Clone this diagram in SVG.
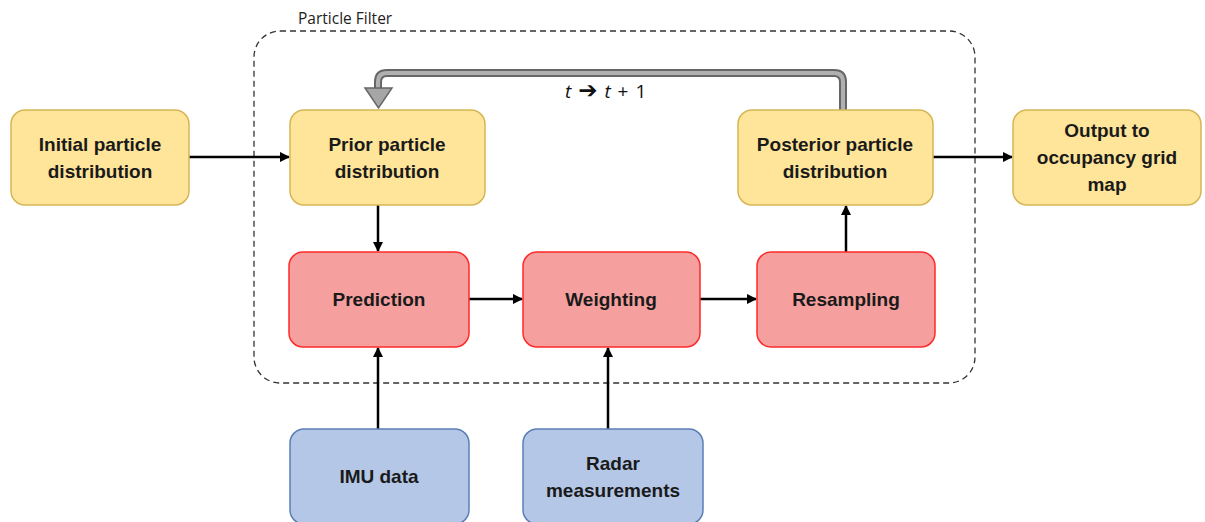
<svg xmlns="http://www.w3.org/2000/svg" width="1205" height="522" viewBox="0 0 1205 522">
<style>
.y{fill:#FFE599;stroke:#D6B656;stroke-width:1.5}
.r{fill:#F5A09E;stroke:#FF2A2A;stroke-width:1.5}
.b{fill:#B4C7E7;stroke:#5B7FB5;stroke-width:1.5}
.t{font-family:"Liberation Sans",Arial,sans-serif;font-weight:bold;font-size:19px;fill:#1a1a1a;text-anchor:middle}
.c{stroke:#000;stroke-width:2.5;fill:none;marker-end:url(#a)}
</style>
<defs>
<marker id="a" viewBox="0 0 10 10" refX="9" refY="5" markerWidth="4.2" markerHeight="4.2" orient="auto" markerUnits="strokeWidth">
<path d="M0,0 L10,5 L0,10 z" fill="#000"/>
</marker>
</defs>
<g id="container">
<rect x="254" y="31" width="721" height="352" rx="26" fill="none" stroke="#333" stroke-width="1.3" stroke-dasharray="6,4"/>
<text x="298" y="24" font-family="'Open Sans','Liberation Sans',sans-serif" font-size="15.5" fill="#222">Particle Filter</text>
</g>
<g id="connectors">
<path d="M843,110 V82 Q843,73 834,73 H387 Q378,73 378,82 V90" fill="none" stroke="#666" stroke-width="8"/>
<path d="M843,110 V82 Q843,73 834,73 H387 Q378,73 378,82 V92" fill="none" stroke="#B0B0B0" stroke-width="4"/>
<path d="M365,88 H392 L378.5,108 z" fill="#A6A6A6" stroke="#666" stroke-width="1.5"/>
<text x="565" y="98" font-family="'Open Sans','Liberation Sans',sans-serif" font-size="19" fill="#111" word-spacing="2"><tspan font-style="italic">t</tspan> <tspan font-family="'DejaVu Sans',sans-serif" font-weight="bold" font-size="23">➔</tspan> <tspan font-style="italic">t</tspan> + 1</text>
<path class="c" d="M189,157 H289"/>
<path class="c" d="M378,205 V251"/>
<path class="c" d="M469,299 H522"/>
<path class="c" d="M700,299 H756"/>
<path class="c" d="M846,252 V206"/>
<path class="c" d="M933,157 H1012"/>
<path class="c" d="M378,429 V348"/>
<path class="c" d="M608,429 V348"/>
</g>
<g id="initial"><rect class="y" x="11" y="110" width="178" height="95" rx="14"/><text class="t" x="100" y="151">Initial particle</text><text class="t" x="100" y="178">distribution</text></g>
<g id="prior"><rect class="y" x="290" y="110" width="195" height="95" rx="14"/><text class="t" x="387" y="151">Prior particle</text><text class="t" x="387" y="178">distribution</text></g>
<g id="posterior"><rect class="y" x="738" y="110" width="195" height="95" rx="14"/><text class="t" x="835" y="151">Posterior particle</text><text class="t" x="835" y="178">distribution</text></g>
<g id="output"><rect class="y" x="1013" y="110" width="188" height="95" rx="14"/><text class="t" x="1107" y="137">Output to</text><text class="t" x="1107" y="164">occupancy grid</text><text class="t" x="1107" y="191">map</text></g>
<g id="prediction"><rect class="r" x="289" y="252" width="180" height="95" rx="14"/><text class="t" x="379" y="306">Prediction</text></g>
<g id="weighting"><rect class="r" x="523" y="252" width="177" height="95" rx="14"/><text class="t" x="611" y="306">Weighting</text></g>
<g id="resampling"><rect class="r" x="757" y="252" width="178" height="95" rx="14"/><text class="t" x="846" y="306">Resampling</text></g>
<g id="imu"><rect class="b" x="290" y="429" width="179" height="95" rx="14"/><text class="t" x="379" y="483">IMU data</text></g>
<g id="radar"><rect class="b" x="523" y="429" width="180" height="95" rx="14"/><text class="t" x="613" y="470">Radar</text><text class="t" x="613" y="497">measurements</text></g>
</svg>
